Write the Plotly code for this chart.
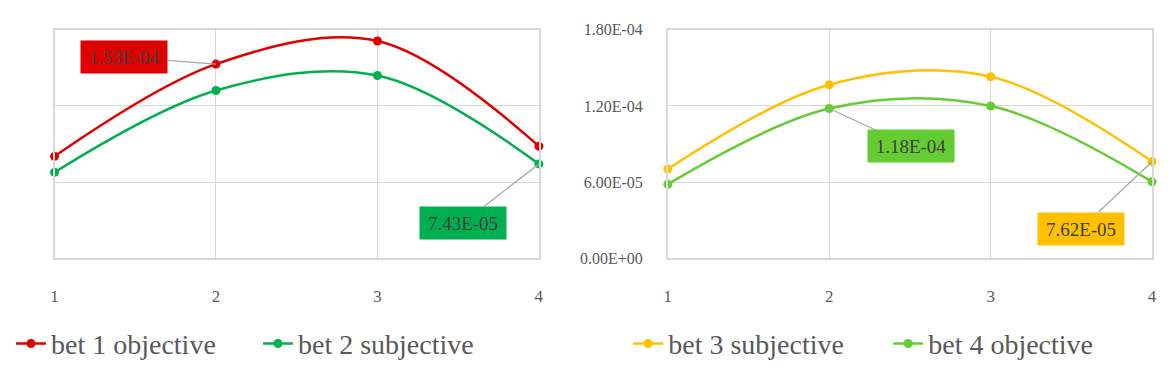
import plotly.graph_objects as go

x_vals = [1, 2, 3, 4]
tick_labels = ["1", "2", "3", "4"]

bet1_objective = [8.03e-05, 1.53e-04, 1.712e-04, 8.83e-05]
bet2_subjective = [6.77e-05, 1.322e-04, 1.44e-04, 7.43e-05]
bet3_subjective = [7.03e-05, 1.367e-04, 1.430e-04, 7.62e-05]
bet4_objective = [5.83e-05, 1.18e-04, 1.20e-04, 6.02e-05]

y_ticks = [0, 6.0e-05, 1.2e-04, 1.8e-04]
y_tick_labels = ["0.00E+00", "6.00E-05", "1.20E-04", "1.80E-04"]

RED = "#e00000"
GREEN = "#00b050"
YELLOW = "#ffc000"
LGREEN = "#66cc33"
FONT = "Liberation Serif"
TXT = "#595959"

fig = go.Figure()

def add(y, name, color, xa, ya, legend):
    fig.add_trace(go.Scatter(
        x=x_vals, y=y, name=name, mode="lines+markers",
        line=dict(color=color, width=2.5, shape="spline", smoothing=1.0),
        marker=dict(color=color, size=9),
        xaxis=xa, yaxis=ya, legend=legend, cliponaxis=False,
    ))

add(bet1_objective, "bet 1 objective", RED, "x", "y", "legend")
add(bet2_subjective, "bet 2 subjective", GREEN, "x", "y", "legend")
add(bet3_subjective, "bet 3 subjective", YELLOW, "x2", "y2", "legend2")
add(bet4_objective, "bet 4 objective", LGREEN, "x2", "y2", "legend2")

grid = "#d9d9d9"
xcommon = dict(range=[1, 4], tickvals=x_vals, ticktext=tick_labels, showgrid=True,
               gridcolor=grid, showline=True, linecolor=grid, mirror=True, linewidth=1.5,
               zeroline=False, tickfont=dict(family=FONT, size=17, color=TXT),
               ticklabelstandoff=22)
ycommon = dict(range=[0, 1.8e-04], tickvals=y_ticks, ticktext=y_tick_labels, showgrid=True,
               gridcolor=grid, showline=True, linecolor=grid, mirror=True, linewidth=1.5,
               zeroline=False, tickfont=dict(family=FONT, size=16, color=TXT))

legend_font = dict(family=FONT, size=28, color=TXT)

fig.update_layout(
    width=1174, height=369,
    margin=dict(l=0, r=0, t=0, b=0),
    paper_bgcolor="white", plot_bgcolor="white",
    font=dict(family=FONT),
    xaxis=dict(domain=[0.0434, 0.4591], anchor="y", **xcommon),
    yaxis=dict(domain=[0.2873, 0.9377], anchor="x", showticklabels=False,
               **{k: v for k, v in ycommon.items() if k not in ("tickvals", "ticktext", "tickfont")},
               tickvals=y_ticks),
    xaxis2=dict(domain=[0.5698, 0.9855], anchor="y2", **xcommon),
    yaxis2=dict(domain=[0.2873, 0.9377], anchor="x2", ticklabelstandoff=20, **ycommon),
    legend=dict(orientation="h", x=0.006, xanchor="left", y=0.0434, yanchor="middle",
                entrywidthmode="pixels", entrywidth=202,
                font=legend_font, bgcolor="rgba(0,0,0,0)"),
    legend2=dict(orientation="h", x=0.5358, xanchor="left", y=0.0434, yanchor="middle",
                 entrywidthmode="pixels", entrywidth=215,
                 font=legend_font, bgcolor="rgba(0,0,0,0)"),
    showlegend=True,
)

def label(xref, yref, xv, yv, text, bg, ax, ay):
    fig.add_annotation(
        x=xv, y=yv, xref=xref, yref=yref, text=text, showarrow=True,
        ax=ax, ay=ay, arrowhead=0, arrowwidth=1.2, arrowcolor="#a6a6a6",
        bgcolor=bg, borderpad=5, width=76, height=22,
        font=dict(family=FONT, size=19, color="#404040"),
    )

label("x", "y", x_vals[1], bet1_objective[1], "1.53E-04", RED, -92, -7)
label("x", "y", x_vals[3], bet2_subjective[3], "7.43E-05", GREEN, -76, 59)
label("x2", "y2", x_vals[1], bet4_objective[1], "1.18E-04", LGREEN, 82, 38)
label("x2", "y2", x_vals[3], bet3_subjective[3], "7.62E-05", YELLOW, -71, 67)

fig.write_html("out.html")
